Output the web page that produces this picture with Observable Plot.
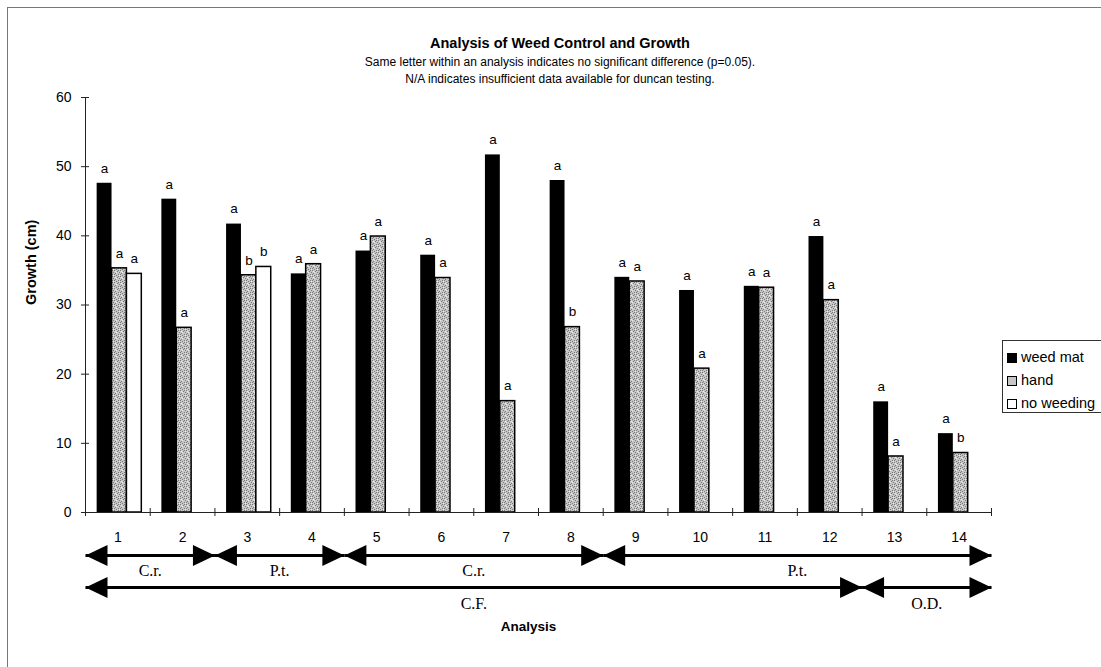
<!DOCTYPE html>
<html><head><meta charset="utf-8">
<script src="https://cdn.jsdelivr.net/npm/d3@7"></script>
<script src="https://cdn.jsdelivr.net/npm/@observablehq/plot@0.6"></script>
<style>
body{margin:0;background:#fff;font-family:"Liberation Sans",Arial,sans-serif;color:#000;}
#wrap{position:relative;width:1101px;height:667px;overflow:hidden;}
#border{position:absolute;left:7px;top:7px;width:1120px;height:700px;border:1px solid #777;box-sizing:border-box;}
.ttl{position:absolute;left:260px;width:600px;text-align:center;white-space:nowrap;}
#title{top:35px;font-weight:bold;font-size:14.5px;}
#sub1{top:55px;font-size:12px;}
#sub2{top:72px;font-size:12px;}
#legend{position:absolute;left:1002px;top:340px;width:120px;height:73px;border:1px solid #333;box-sizing:border-box;font-size:14.5px;}
.li{position:absolute;left:4px;height:18px;line-height:18px;white-space:nowrap;}
.sw{display:inline-block;width:10px;height:10px;margin-right:4px;vertical-align:-1px;box-sizing:border-box;}
#chart{position:absolute;left:0;top:0;}
</style></head>
<body>
<div id="wrap">
  <div id="border"></div>
  <div id="chart"></div>
  <div class="ttl" id="title">Analysis of Weed Control and Growth</div>
  <div class="ttl" id="sub1">Same letter within an analysis indicates no significant difference (p=0.05).</div>
  <div class="ttl" id="sub2">N/A indicates insufficient data available for duncan testing.</div>
  <div id="legend"></div>
</div>
<script>
// ---- data ----
const analyses = [1,2,3,4,5,6,7,8,9,10,11,12,13,14];
const series = ["weed mat", "hand", "no weeding"];
const weedMat   = [47.6, 45.3, 41.7, 34.5, 37.8, 37.2, 51.7, 48.0, 34.0, 32.1, 32.7, 39.9, 16.0, 11.4];
const hand      = [35.3, 26.7, 34.3, 35.9, 39.9, 33.9, 16.1, 26.8, 33.4, 20.8, 32.5, 30.7, 8.1, 8.6];
const noWeeding = [34.5, null, 35.5, null, null, null, null, null, null, null, null, null, null, null];
const weedMatLetters   = ["a","a","a","a","a","a","a","a","a","a","a","a","a","a"];
const handLetters      = ["a","a","b","a","a","a","a","b","a","a","a","a","a","b"];
const noWeedingLetters = ["a",null,"b",null,null,null,null,null,null,null,null,null,null,null];
const yTicks = [0,10,20,30,40,50,60];
const speciesNames  = ["C.r.","P.t.","C.r.","P.t."];
const speciesStart  = [1,3,5,9];
const speciesEnd    = [2,4,8,14];
const familyNames   = ["C.F.","O.D."];
const familyStart   = [1,13];
const familyEnd     = [12,14];

// ---- build tables ----
const values = [weedMat, hand, noWeeding];
const letters = [weedMatLetters, handLetters, noWeedingLetters];
const rows = [];
series.forEach((s, si) => analyses.forEach((a, i) => {
  const v = values[si][i];
  if (v == null) return;
  rows.push({analysis: a, series: s, si, value: v, letter: letters[si][i]});
}));
const speciesSeg = speciesNames.map((n, i) => ({name: n, start: speciesStart[i], end: speciesEnd[i]}));
const familySeg = familyNames.map((n, i) => ({name: n, start: familyStart[i], end: familyEnd[i]}));
const boundaries = [analyses[0] - 0.5, ...analyses.map(a => a + 0.5)];

// layout (style) constants
const slot = 0.23, groupStart = 0.18;
const bx1 = d => d.analysis - 0.5 + groupStart + d.si * slot;
const bx2 = d => bx1(d) + slot;
const bxc = d => bx1(d) + slot / 2;

const headLeft  = {draw(ctx){ ctx.moveTo(0,0); ctx.lineTo(22,-10.5); ctx.lineTo(22,10.5); ctx.closePath(); }};
const headRight = {draw(ctx){ ctx.moveTo(0,0); ctx.lineTo(-22,-10.5); ctx.lineTo(-22,10.5); ctx.closePath(); }};

const serif = "Liberation Serif, Times New Roman, serif";
const arrowRow = (segs, dy, ldy) => [
  Plot.link(segs, {x1: d => d.start - 0.5, x2: d => d.end + 0.5, y1: 0, y2: 0, dy, stroke: "#000", strokeWidth: 3}),
  Plot.dot(segs, {x: d => d.start - 0.5, y: 0, dy, symbol: headLeft, fill: "#000", stroke: "none"}),
  Plot.dot(segs, {x: d => d.end + 0.5, y: 0, dy, symbol: headRight, fill: "#000", stroke: "none"}),
  Plot.text(segs, {x: d => (d.start + d.end) / 2, y: 0, dy: ldy, text: "name", fontFamily: serif, fontSize: 16})
];

const svg = Plot.plot({
  width: 1101, height: 667,
  marginLeft: 85, marginRight: 110, marginTop: 97, marginBottom: 155,
  style: {fontFamily: "Liberation Sans, Arial, sans-serif", fontSize: "14px", background: "transparent", overflow: "visible"},
  x: {type: "linear", domain: [0.5, 14.5], ticks: analyses, tickFormat: d => d, tickSize: 0, tickPadding: 20, label: null},
  y: {domain: [0, 60], ticks: yTicks, tickSize: 0, tickPadding: 14, label: null},
  marks: [
    Plot.rectY(rows.filter(d => d.si === 0), {x1: bx1, x2: bx2, y1: 0, y2: "value", fill: "#000"}),
    Plot.rectY(rows.filter(d => d.si === 1), {x1: bx1, x2: bx2, y1: 0, y2: "value", fill: "url(#stipple)", stroke: "#000", strokeWidth: 1.5}),
    Plot.rectY(rows.filter(d => d.si === 2), {x1: bx1, x2: bx2, y1: 0, y2: "value", fill: "#fff", stroke: "#000", strokeWidth: 1.5}),
    Plot.text(rows, {x: bxc, y: "value", text: "letter", dy: -15, fontSize: 13.5}),
    Plot.ruleX([boundaries[0]], {stroke: "#222"}),
    Plot.ruleY([0], {stroke: "#222"}),
    Plot.ruleY(yTicks, {y: d => d, x1: boundaries[0], x2: boundaries[0], insetLeft: -4, insetRight: -4, stroke: "#222"}),
    Plot.ruleX(boundaries, {x: d => d, y1: 0, y2: 0, insetTop: -4, insetBottom: -4, stroke: "#222"}),
    Plot.text(["Growth (cm)"], {frameAnchor: "left", dx: -54, rotate: -90, fontWeight: "bold", fontSize: 14.5}),
    Plot.text(["Analysis"], {frameAnchor: "bottom", dy: 118, dx: -10, fontWeight: "bold", fontSize: 13.5}),
    ...arrowRow(speciesSeg, 43, 58),
    ...arrowRow(familySeg, 75, 91)
  ]
});

// stipple pattern for "hand" bars
const ns = "http://www.w3.org/2000/svg";
const defs = document.createElementNS(ns, "defs");
let pat = '<pattern id="stipple" width="6" height="6" patternUnits="userSpaceOnUse"><rect width="6" height="6" fill="#c6c6c6"/>';
[[0,0],[3,1],[1,3],[4,4],[5,2],[2,5],[0,4],[4,0]].forEach(([x,y]) => pat += `<rect x="${x}" y="${y}" width="1" height="1" fill="#7a7a7a"/>`);
[[2,2],[5,5],[1,1]].forEach(([x,y]) => pat += `<rect x="${x}" y="${y}" width="1" height="1" fill="#ececec"/>`);
pat += '</pattern>';
defs.innerHTML = pat;
svg.insertBefore(defs, svg.firstChild);
document.getElementById("chart").appendChild(svg);

// legend
const legend = document.getElementById("legend");
const swStyles = ["background:#000;", "background:#c6c6c6;border:1.5px solid #000;", "background:#fff;border:1.5px solid #000;"];
series.forEach((s, i) => {
  const div = document.createElement("div");
  div.className = "li";
  div.style.top = (7 + i * 23) + "px";
  div.innerHTML = `<span class="sw" style="${swStyles[i]}"></span>${s}`;
  legend.appendChild(div);
});
</script>
</body></html>
